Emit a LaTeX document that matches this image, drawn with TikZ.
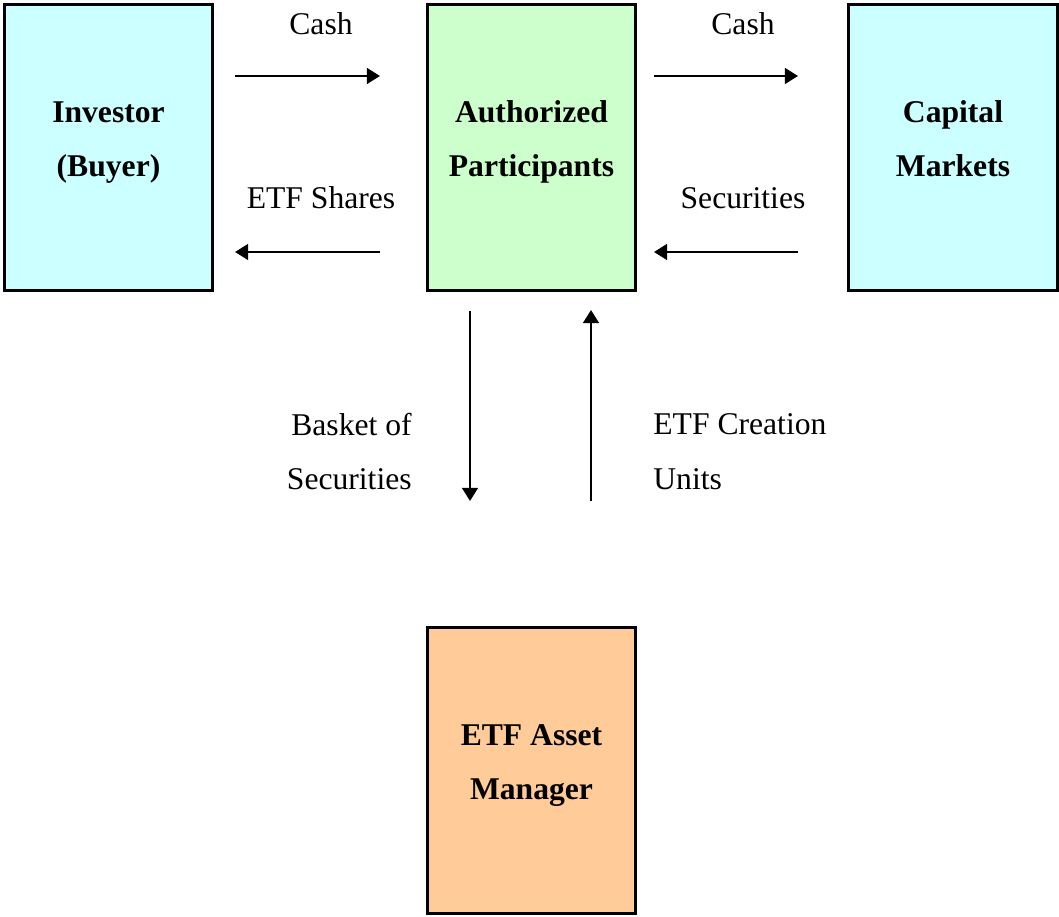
\documentclass[tikz,border=0pt]{standalone}
\usepackage{fontspec}
\setmainfont{Liberation Serif}
\usetikzlibrary{arrows.meta}
\definecolor{buyercyan}{HTML}{CCFFFF}
\definecolor{apgreen}{HTML}{CCFFCC}
\definecolor{mgrorange}{HTML}{FFCC99}
\tikzset{
    box/.style={draw, line width=1.6pt, minimum width=4.17cm, minimum height=5.72cm,
        align=center, inner sep=0pt, text height=33pt, text depth=0pt,
        font=\fontsize{18}{31}\selectfont\bfseries},
    flow/.style={line width=1.3pt, -{Triangle[length=7.5pt,width=9pt]}},
    lbl/.style={inner sep=0pt, font=\fontsize{18}{31}\selectfont}
}
\begin{document}
\begin{tikzpicture}
                    \useasboundingbox (0,0) rectangle (21.18,-18.34);
                    \node [box, fill=buyercyan] (investor) at (2.17,-2.95) {Investor\\(Buyer)};
                    \node [box, fill=apgreen] (ap) at (10.63,-2.95) {Authorized\\Participants};
                    \node [box, fill=buyercyan] (market) at (19.06,-2.95) {Capital\\Markets};
                    \node [box, fill=mgrorange] (manager) at (10.63,-15.41) {ETF Asset\\Manager};
                    \coordinate (cashA) at (4.7,-1.52);
                    \coordinate (cashB) at (7.6,-1.52);
                    \coordinate (shareA) at (7.6,-5.04);
                    \coordinate (shareB) at (4.7,-5.04);
                    \coordinate (cashC) at (13.08,-1.52);
                    \coordinate (cashD) at (15.96,-1.52);
                    \coordinate (secA) at (15.96,-5.04);
                    \coordinate (secB) at (13.08,-5.04);
                    \coordinate (basketA) at (9.4,-6.22);
                    \coordinate (basketB) at (9.4,-10.02);
                    \coordinate (unitsA) at (11.82,-10.02);
                    \coordinate (unitsB) at (11.82,-6.2);
                    \draw [flow] (cashA)--(cashB);
                    \draw [flow] (shareA)--(shareB);
                    \draw [flow] (cashC)--(cashD);
                    \draw [flow] (secA)--(secB);
                    \draw [flow] (basketA)--(basketB);
                    \draw [flow] (unitsA)--(unitsB);
                    \node [lbl] (cashlbl1) at (6.42,-0.48) {Cash};
                    \node [lbl] (cashlbl2) at (14.86,-0.48) {Cash};
                    \node [lbl] (sharelbl) at (6.42,-3.96) {ETF Shares};
                    \node [lbl] (seclbl) at (14.86,-3.96) {Securities};
                    \node [lbl, anchor=east, align=right] (basketlbl) at (8.24,-9.03) {Basket of\\Securities};
                    \node [lbl, anchor=west, align=left] (unitslbl) at (13.06,-9.03) {ETF Creation\\Units};
                \end{tikzpicture}
\end{document}
